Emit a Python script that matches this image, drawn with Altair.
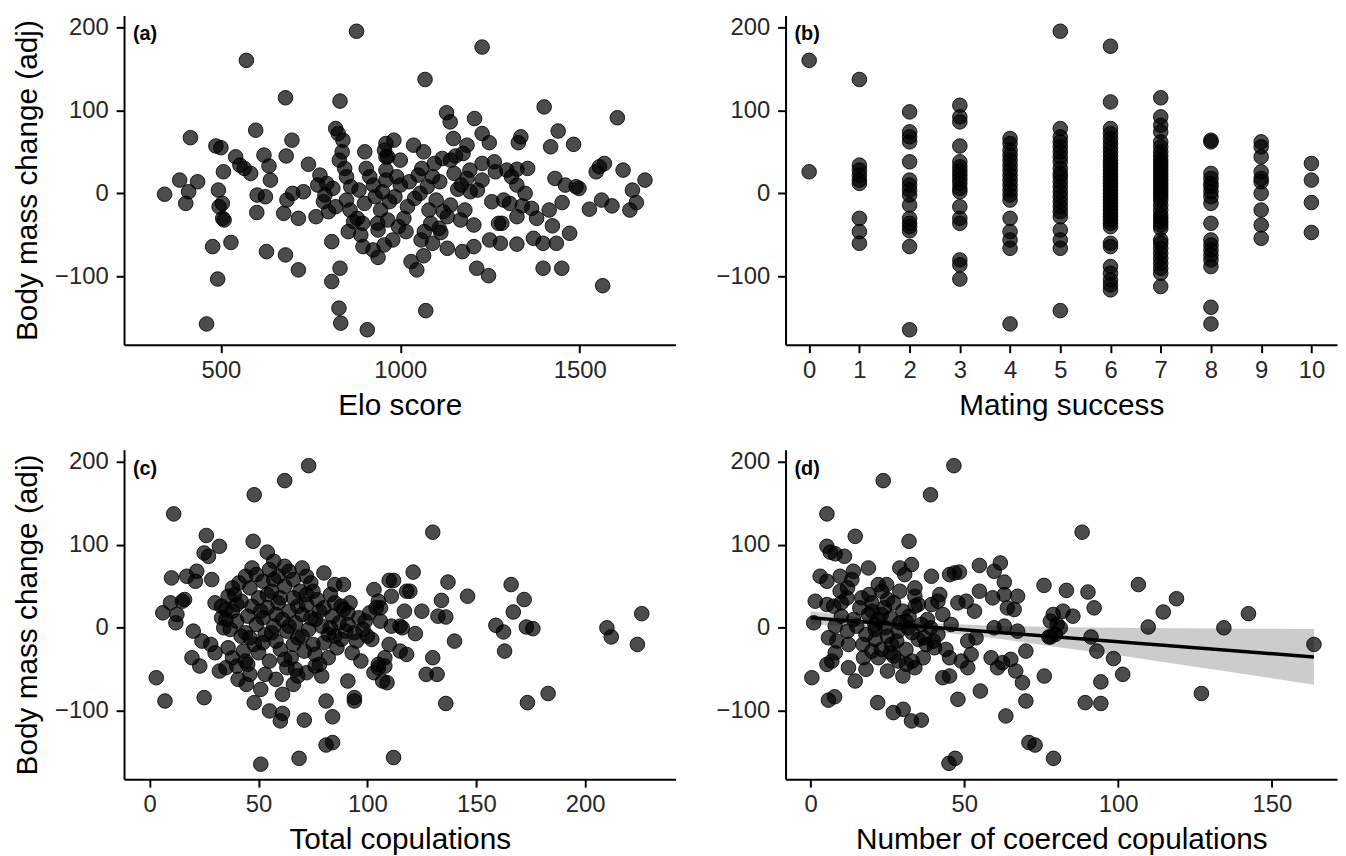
import altair as alt
import pandas as pd

# ---------------- Panel (a): Elo score ----------------
elo_x = [343, 385, 410, 415, 435, 402, 460, 477, 486, 491, 493, 495, 500, 504, 505, 509, 507, 528,
         541, 553, 565, 571, 583, 597, 600, 601, 620, 624, 627, 634, 638,
         675, 680, 680, 682, 684, 698, 700, 716, 716, 730, 744, 765, 776, 786, 795, 809, 809, 812,
         820, 827, 829, 832, 832, 834, 830, 838, 840, 845, 850, 860, 870, 878, 880, 895, 896, 901,
         908, 915, 924, 930, 937, 938, 956, 960, 960, 960, 960, 965, 965, 938, 979, 982, 990, 1000,
         1016, 1020, 1030, 1037, 1046, 1055, 1060, 1065, 1065, 1067, 1069, 1071, 1080, 1090, 1108,
         1113, 1117, 1120, 1129, 1131, 1131, 1139, 1148, 1154, 1160, 1168, 1173, 1186, 1186, 1194,
         1205, 1205, 1207, 1213, 1228, 1228, 1228, 1228, 1246, 1248, 1249, 1265, 1274, 1279, 1283,
         1288, 1297, 1305, 1325, 1325, 1325, 1325, 1329, 1336, 1340, 1348, 1366, 1371, 1398, 1398,
         1401, 1419, 1424, 1431, 1435, 1440, 1450, 1451, 1460, 1472, 1483, 1490, 1498, 1527, 1546,
         1555, 1564, 1561, 1569, 1590, 1605, 1621, 1640, 1647, 1658, 1682,
         790, 800, 820, 850, 862, 885, 900, 905, 925, 945, 950, 970, 985, 1000, 1010, 1025, 1040,
         1050, 1075, 1085, 1095, 1100, 1110, 1140, 1150, 1170, 1180, 1195,
         770, 855, 890, 955, 995, 1058, 1090, 1140, 1175, 1215, 1255, 1262, 1310, 1355, 1380, 1415]
elo_y = [-1, 16, 2, 67, 14, -12, -157, -64, 57, -103, 4, -16, 55, -12, -30, -32, 26, -59,
         44, 34, 30, 160, 24, 76, -23, -2, 46, -4, -70, 33, 16,
         -24, 115, -74, 45, -8, 64, 0, -30, -92, 2, 35, -28, 22, -10, 12, -58, -106, 6,
         78, 72, -138, 111, -90, -156, 40, 50, 64, 30, -8, -20, -34, 195, -30, -36, -64, 50,
         -164, 20, -68, -4, -36, -77, 52, 60, 44, 28, 16, 44, -32, -44, -56, 64, 20, 10,
         -46, -16, -82, 58, -92, 0, 30, 50, -75, -46, 137, -141, -20, 20, -42,
         -47, 42, -22, 97, -28, -66, 86, 66, 45, 5, -32, -70, 58, 18, 28,
         -38, -64, 90, -90, 176, 72, 36, 16, -99, 61, -56, 26, -36, -60, -36,
         -8, 28, -12, 29, 10, -28, -61, 61, 68, -15, 0, -18, -54, -60, -90,
         104, 56, -39, 18, -60, 75, -90, -11, 10, -48, 59, 8, 6, -19, 26,
         32, -111, -8, 36, -15, 91, 28, -20, 4, -11, 16,
         -2, -22, -16, 20, 8, 4, -12, 30, 10, -20, 2, -10, -4, 40, -30, 14, -6,
         22, 8, -36, 36, -8, 14, -14, 24, 10, -20, 2,
         10, -46, -50, -62, -40, -56, -60, 40, 48, 4, -10, 38, 20, 30, -30, -20]

# ---------------- Panel (b): Mating success ----------------
mating_groups = {
    0: [160, 26],
    1: [137, 34, 28, 22, 16, 12, -30, -46, -60],
    2: [98, 74, 68, 62, 38, 16, 10, 4, -2, -14, -30, -36, -40, -45, -64, -164],
    3: [106, 92, 86, 57, 38, 32, 27, 22, 17, 12, 6, 2, -16, -30, -36, -80, -86, -103],
    4: [66, 60, 52, 46, 40, 34, 28, 22, 16, 10, 4, -2, -8, -30, -46, -56, -66, -157],
    5: [195, 78, 68, 62, 56, 50, 44, 38, 30, 24, 20, 14, 8, 2, -4, -10, -16, -22, -28, -44, -56, -66, -141],
    6: [177, 110, 78, 72, 66, 60, 55, 50, 45, 40, 36, 32, 28, 24, 20, 16, 12, 8, 4, 0, -4, -8, -12,
        -16, -20, -24, -28, -32, -36, -40, -60, -64, -88, -96, -104, -110, -116],
    7: [115, 92, 82, 74, 62, 56, 50, 45, 40, 36, 32, 28, 24, 20, 16, 12, 8, 4, 0, -4, -8, -14, -20,
        -26, -30, -34, -38, -42, -56, -60, -66, -72, -78, -84, -90, -96, -112],
    8: [64, 62, 24, 18, 12, 8, 2, -4, -12, -36, -56, -62, -68, -74, -80, -88, -137, -157],
    9: [62, 56, 44, 26, 18, 14, 0, -20, -38, -54],
    10: [36, 16, -11, -47],
}
mating_x = [k for k, vals in mating_groups.items() for _ in vals]
mating_y = [v for vals in mating_groups.values() for v in vals]

# ---------------- Panel (c): Total copulations ----------------
total_x = [3, 7, 25, 6, 9.5, 10, 11, 12, 12.5, 15, 16, 17, 20, 19.4, 21, 21.6, 23, 24, 25, 26, 27, 28.5, 32,
           35, 40.6, 44.4, 48, 48, 47.5, 51, 51, 54, 55, 60, 61, 62, 66, 68, 68.6, 71, 73, 79, 81, 81, 84, 84,
           85, 82, 88, 89, 89, 91, 91, 94, 94, 95, 99, 100, 103, 103, 104, 105, 105, 107, 108, 109, 110, 110,
           111, 112,
           30, 33, 36, 38, 40, 42, 44, 45, 46, 47, 48, 49, 50, 50, 52, 53, 54, 55, 56, 57, 58, 59, 60, 61,
           62, 63, 64, 65, 66, 67, 68, 69, 70, 71, 72, 73, 74, 75, 76, 77, 78, 79, 80, 82, 83, 84, 86, 87,
           90, 92, 93, 96, 97, 98, 101, 102, 106,
           28, 30, 32, 34, 36, 38, 40, 42, 44, 46, 35, 38, 41, 44, 47, 49, 52, 55, 57, 59, 62, 64, 66, 70,
           72, 75, 80, 85, 63, 67, 72, 76, 58, 53, 61,
           130, 121, 112, 118, 119.5, 111, 137, 146, 134, 132.4, 136, 125, 117, 106, 115, 116, 122, 140,
           115, 118, 108, 105, 130, 127, 132, 136, 166, 172, 167, 159, 162.5, 173, 176, 163, 173.5, 183,
           226, 210, 212, 224,
           35, 37, 39, 43, 46, 51, 52, 54, 56, 58, 60, 62, 64, 66, 68, 70, 72, 74, 76, 78, 80, 83, 85, 88,
           91, 94, 57, 45, 40, 33]
total_y = [-60, -88, -84, 18, 30, 60, 137, 6, 16, 32, 34, 62, -4, -36, 56, 68, -46, -16, 90, 111, 86, 58, 98,
           -48, -62, -68, -90, 160, 104, -74, -164, 91, -100, -112, -103, 177, -68, -58, -157, -111, 195,
           -58, -88, -141, -107, -138, -10, -36, 26, 22, 52, -64, 4, -84, -88, -16, 8, -10, 46, -54, 24, 32,
           -44, -64, -36, -66, 57, -20, 2, -156,
           30, 26, 38, 20, 8, 32, -6, 14, 48, 26, -20, 4, 36, -30, 12, -8, 24, -40, 44, 2, -16, 30, -26, 10,
           50, -4, 20, -36, 36, 6, -12, 44, 16, -28, 28, -2, 54, -20, 10, 34, -44, 2, 24, -8, 40, 14, -24, 6,
           -4, 30, -30, 12, -40, -2, 18, -14, 8,
           -20, -30, -52, 0, -24, -36, -46, -10, -40, -56, 10, 48, 54, 62, 72, 64, 56, 70, 80, 62, 74, 68,
           58, 72, 62, 44, 66, 52, -48, -50, -54, -46, -62, -56, -80,
           115, 67, 57, 44, 44, 38, 55, 38, 33, 14, 13, 20, 20, 24, 2, 0, -7, -16,
           -28, -32, -46, -48, -36, -56, -56, -91, 52, 34, 19, 3, -5, 1, -1, -28, -90, -79,
           17, 0, -11, -20,
           22, -2, 40, -28, -12, 20, -18, 40, -6, 16, 36, -38, 2, -20, 26, -10, 40, 12, -32, 20, -18, 0, 30,
           -14, 18, -6, 58, -44, 28, 12]

# ---------------- Panel (d): Coerced copulations ----------------
coerced_x = [46.6, 23.6, 39, 5.3, 14.5, 32, 5.3, 6.4, 8, 11,
             3.1, 5.3, 9.6, 13.9, 13.4, 18.8, 22, 29, 32.8, 30.6, 39.3, 45.2, 46.8, 48.4, 54.9, 59.7, 61.7,
             63, 75.9,
             1.5, 5.3, 7.5, 9.6, 11.8, 16.6, 19.9, 23.1, 24.7, 33.9, 33.9, 39.3, 41.4, 47.9, 50.6, 53.3,
             54.9, 59.2, 63, 67.3, 66.2, 64,
             1, 5.8, 8.5, 12.3, 18.8, 20.9, 24.2, 28.5, 31.7, 36, 41.4, 45.7, 51.1, 53.8, 59.7, 63, 67.3,
             77.5, 78,
             5.3, 6.9, 12.3, 14.5, 17.2, 19.9, 22, 26.3, 28.5, 31.2, 33.9, 36.6, 37.6, 40.3, 43, 45.2,
             45.2, 49, 51.1, 52.2, 58.7, 60.8, 62.4, 65.1, 66.7, 70, 68.9, 0.4,
             5.8, 7.8, 21.8, 26.9, 30.1, 32.8, 36, 47.9, 55.2, 63.5, 70,
             20, 22, 24, 25, 26, 27, 28, 29, 30, 31, 32, 33, 34, 35, 26, 23, 21, 18, 16, 14, 12, 10, 8, 38,
             40, 43, 44,
             45, 47, 71, 73, 79,
             88.3, 83.2, 90.2, 92.2, 78.9, 82.1, 85.3, 80.2, 81.2, 78, 79.6, 91.2, 93.1, 98.5, 101.5,
             94.4, 89.3, 94.4, 76, 106.6, 119, 114.7, 109.8, 134.4, 142.4, 127.1, 163.7,
             10, 12, 15, 17, 19, 21, 23, 25, 27, 29, 31, 33, 35, 37, 39, 42, 25, 30, 18, 8]
coerced_y = [195, 177, 160, 137, 110, 104, 98, 91, 89, 86,
             62, 56, 62, 68, 58, 72, 52, 72, 76, 64, 62, 64, 66, 67, 75, 68, 78,
             55, 51,
             32, 28, 26, 44, 36, 36, 30, 44, 52, 48, 38, 28, 32, 30, 32, 20,
             44, 36, 40, 38, 22, 24,
             6, -12, -16, -20, 16, 4, 0, -4, 0, 4, -8, 4, -16, -12, 0, 2, -4,
             -11, 8,
             -44, -40, -48, -64, -36, -28, -36, -20, -40, -44, -48, -36, -20, -24, -60, -36,
             -58, -40, -48, -32, -36, -48, -42, -38, -52, -28, -66, -60,
             -87, -83, -90, -102, -98, -112, -111, -86, -76, -106, -88,
             20, 10, 24, -10, 12, 30, -16, 6, 20, -26, 14, -6, 26, -14, -30, -26, -14, -8, 24, 10, -4, 14, 2, 10,
             -16, 16, -26,
             -163, -157, -138, -141, -157,
             115, 45, 43, 24, 16, 20, 14, 4, 0, -11, -8, -11, -28, -37, -56,
             -65, -90, -91, -58, 52, 35, 19, 1, 0, 17, -79, -20,
             30, 48, 2, -20, 40, -2, 16, 34, -34, 44, 8, -40, 28, -12, 0, 40, -52, -58, -50, -30]

# linear fit and its confidence band
fit_x = [0, 163.7]
fit_y = [12, -35]
band_x = [0, 20, 40, 60, 80, 100, 120, 140, 163.7]
band_lo = [4, 1, -4.5, -12.5, -23, -33, -44, -55, -68.5]
band_hi = [20, 11, 5.5, 2.5, 1, 0, -0.5, -1, -1.5]

Y_TICKS = [-100, 0, 100, 200]
Y_DOMAIN = [-182, 214]
W, H = 556, 332
FONT = "Liberation Sans"


def yscale():
    return alt.Scale(domain=Y_DOMAIN, nice=False, zero=False)


def make_panel(xs, ys, xtitle, xdomain, xticks, tag, ytitle, extra_under=None, extra_over=None):
    df = pd.DataFrame({"x": xs, "y": ys})
    xsc = alt.Scale(domain=xdomain, nice=False, zero=False)
    yaxis = alt.Axis(values=Y_TICKS, format="d")
    if ytitle:
        yenc = alt.Y("y:Q", title=ytitle, scale=yscale(), axis=yaxis)
    else:
        yenc = alt.Y("y:Q", title=None, scale=yscale(), axis=yaxis)
    pts = alt.Chart(df).mark_circle(
        size=216, fill="black", fillOpacity=0.7, stroke="black", strokeOpacity=0.85, strokeWidth=1
    ).encode(
        x=alt.X("x:Q", title=xtitle, scale=xsc, axis=alt.Axis(values=xticks, format="d")),
        y=yenc,
    )
    lab = alt.Chart(pd.DataFrame({"t": [tag]})).mark_text(
        align="left", baseline="middle", font=FONT, fontSize=20, fontWeight="bold", color="black"
    ).encode(x=alt.value(9), y=alt.value(19), text="t:N")
    layers = []
    if extra_under is not None:
        layers.append(extra_under(xsc))
    layers.append(pts)
    if extra_over is not None:
        layers.append(extra_over(xsc))
    layers.append(lab)
    return alt.layer(*layers).properties(width=W, height=H)


def band_layer(xsc):
    bdf = pd.DataFrame({"x": band_x, "lo": band_lo, "hi": band_hi})
    return alt.Chart(bdf).mark_area(color="#cccccc", opacity=1).encode(
        x=alt.X("x:Q", scale=xsc),
        y=alt.Y("lo:Q", scale=yscale()),
        y2="hi:Q",
    )


def fit_layer(xsc):
    fdf = pd.DataFrame({"x": fit_x, "y": fit_y})
    return alt.Chart(fdf).mark_line(color="black", strokeWidth=3.5).encode(
        x=alt.X("x:Q", scale=xsc),
        y=alt.Y("y:Q", scale=yscale()),
    )


pa = make_panel(elo_x, elo_y, "Elo score", [230, 1767], [500, 1000, 1500], "(a)",
                "Body mass change (adj)")
pb = make_panel(mating_x, mating_y, "Mating success", [-0.47, 10.51], list(range(11)), "(b)", None)
pc = make_panel(total_x, total_y, "Total copulations", [-11.8, 241.5], [0, 50, 100, 150, 200], "(c)",
                "Body mass change (adj)")
pd_ = make_panel(coerced_x, coerced_y, "Number of coerced copulations", [-8.15, 171.2], [0, 50, 100, 150],
                 "(d)", None, extra_under=band_layer, extra_over=fit_layer)

chart = alt.vconcat(
    alt.hconcat(pa, pb, spacing=39),
    alt.hconcat(pc, pd_, spacing=39),
    spacing=28,
).properties(
    padding={"top": 3, "left": 4, "right": 0, "bottom": 0}
).configure_axis(
    domainColor="black", domainWidth=2, tickColor="black", tickWidth=2, tickSize=8,
    labelFont=FONT, labelFontSize=24, labelColor="#262626",
    titleFont=FONT, titleFontSize=30, titleFontWeight="normal", titleColor="black",
    grid=False,
).configure_axisX(
    labelPadding=6, titlePadding=8
).configure_axisY(
    labelPadding=8, titlePadding=12
).configure_view(
    stroke="transparent"
)

chart.save("out.html", embed_options={"renderer": "svg", "actions": False})
